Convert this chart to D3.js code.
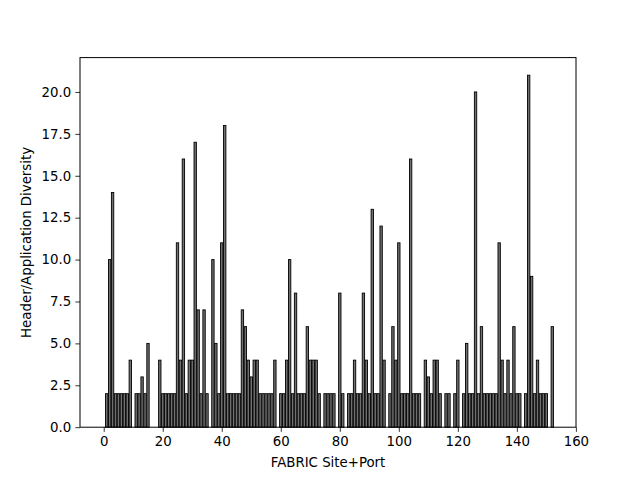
<!DOCTYPE html>
<html>
<head>
<meta charset="utf-8">
<script src="https://cdn.jsdelivr.net/npm/d3@7"></script>
<style>
  html, body { margin: 0; padding: 0; background: #fff; }
  svg { display: block; }
  text { font-family: "DejaVu Sans", sans-serif; }
</style>
</head>
<body>
<svg id="chart" width="640" height="480"></svg>
<script>
// Header/Application diversity per FABRIC site+port index (0..152)
const diversity = [
  0, 2, 10, 14, 2, 2, 2, 2, 2, 4,
  0, 2, 2, 3, 2, 5, 0, 0, 0, 4,
  2, 2, 2, 2, 2, 11, 4, 16, 2, 4,
  4, 17, 7, 2, 7, 2, 0, 10, 5, 2,
  11, 18, 2, 2, 2, 2, 2, 7, 6, 4,
  3, 4, 4, 2, 2, 2, 2, 2, 4, 0,
  2, 2, 4, 10, 2, 8, 2, 2, 2, 6,
  4, 4, 4, 2, 0, 2, 2, 2, 2, 0,
  8, 2, 0, 2, 2, 4, 2, 2, 8, 4,
  2, 13, 2, 2, 12, 4, 0, 2, 6, 4,
  11, 2, 2, 2, 16, 2, 2, 2, 0, 4,
  3, 2, 4, 4, 2, 0, 2, 2, 0, 2,
  4, 0, 2, 5, 2, 2, 20, 2, 6, 2,
  2, 2, 2, 2, 11, 4, 2, 4, 2, 6,
  2, 2, 0, 2, 21, 9, 2, 4, 2, 2,
  2, 0, 6
];
const siteIndex = diversity.map((d, i) => i);
const xTickValues = [0, 20, 40, 60, 80, 100, 120, 140, 160];
const yTickValues = [0, 2.5, 5, 7.5, 10, 12.5, 15, 17.5, 20];
const xLabel = "FABRIC Site+Port";
const yLabel = "Header/Application Diversity";

const svg = d3.select("#chart");
const plotLeft = 80, plotRight = 576, plotTop = 57.6, plotBottom = 427.2;
const barWidth = 0.8;

const xMinData = d3.min(siteIndex) - barWidth / 2;
const xMaxData = d3.max(siteIndex) + barWidth / 2;
const xPad = (xMaxData - xMinData) * 0.05;
const x = d3.scaleLinear()
  .domain([xMinData - xPad, xMaxData + xPad])
  .range([plotLeft, plotRight]);

const yMax = d3.max(diversity) * 1.05;
const y = d3.scaleLinear()
  .domain([0, yMax])
  .range([plotBottom, plotTop]);

// bars
svg.append("g")
  .selectAll("rect")
  .data(diversity.map((v, i) => ({ i: siteIndex[i], v })))
  .join("rect")
  .attr("x", d => x(d.i - barWidth / 2))
  .attr("width", d => x(d.i + barWidth / 2) - x(d.i - barWidth / 2))
  .attr("y", d => y(d.v))
  .attr("height", d => y(0) - y(d.v))
  .attr("fill", "#707070")
  .attr("stroke", "#000")
  .attr("stroke-width", 0.9);

// axes
const xAxis = d3.axisBottom(x)
  .tickValues(xTickValues)
  .tickFormat(d3.format("d"))
  .tickSizeInner(4.67)
  .tickSizeOuter(0)
  .tickPadding(4.2);
const gx = svg.append("g")
  .attr("transform", `translate(0,${plotBottom})`)
  .call(xAxis);
gx.select(".domain").remove();
gx.selectAll(".tick line").attr("stroke", "#000").attr("stroke-width", 0.8);
gx.selectAll(".tick text")
  .attr("font-size", "13.33px")
  .attr("font-family", "DejaVu Sans, sans-serif")
  .attr("fill", "#000");

const yAxis = d3.axisLeft(y)
  .tickValues(yTickValues)
  .tickFormat(d3.format(".1f"))
  .tickSizeInner(4.67)
  .tickSizeOuter(0)
  .tickPadding(4.2);
const gy = svg.append("g")
  .attr("transform", `translate(${plotLeft},0)`)
  .call(yAxis);
gy.select(".domain").remove();
gy.selectAll(".tick line").attr("stroke", "#000").attr("stroke-width", 0.8);
gy.selectAll(".tick text")
  .attr("font-size", "13.33px")
  .attr("font-family", "DejaVu Sans, sans-serif")
  .attr("fill", "#000");

// frame (spines)
svg.append("rect")
  .attr("x", plotLeft)
  .attr("y", plotTop)
  .attr("width", plotRight - plotLeft)
  .attr("height", plotBottom - plotTop)
  .attr("fill", "none")
  .attr("stroke", "#000")
  .attr("stroke-width", 1);

// labels
svg.append("text")
  .attr("x", (plotLeft + plotRight) / 2)
  .attr("y", 467)
  .attr("text-anchor", "middle")
  .attr("font-size", "13.33px")
  .text(xLabel);

svg.append("text")
  .attr("transform", `translate(31,${(plotTop + plotBottom) / 2}) rotate(-90)`)
  .attr("text-anchor", "middle")
  .attr("font-size", "13.33px")
  .text(yLabel);
</script>
</body>
</html>
